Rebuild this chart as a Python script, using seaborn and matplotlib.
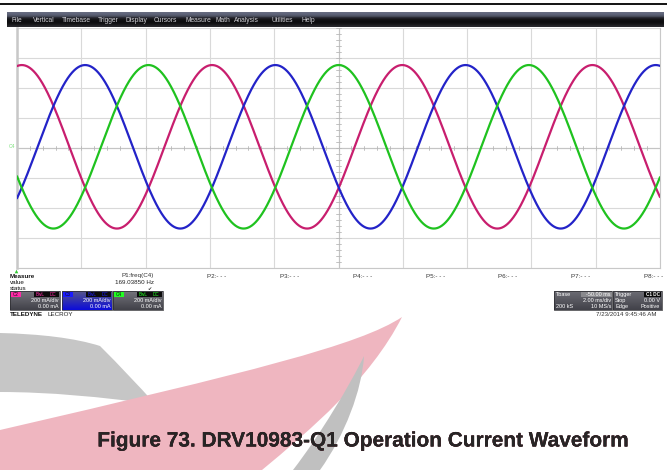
import numpy as np
import pandas as pd
import matplotlib
matplotlib.use("Agg")
import matplotlib.pyplot as plt
import matplotlib.patheffects as pe
from matplotlib.patches import Rectangle, PathPatch
from matplotlib.path import Path
import seaborn as sns

# ---- acquisition data -------------------------------------------------------
channels = ["C2", "C3", "C4"]
channel_colors = ["#c81e6e", "#2323c8", "#1fc21f"]
tag_colors = ["#ff2aa8", "#1a1aff", "#22ff22"]
amplitude_mA = [545.0, 545.0, 545.0]
peak_time_ms = [0.15, 2.12, 4.09]
offset_mA = [8.0, 8.0, 8.0]
frequency_hz = 169.03850
time_per_div_ms = 2.0
current_per_div_mA = 200.0
n_hdiv = 10
n_vdiv = 8
record_points = 4001

menu_items = ["File", "Vertical", "Timebase", "Trigger", "Display", "Cursors",
              "Measure", "Math", "Analysis", "Utilities", "Help"]
menu_x = [12, 33, 62, 98, 125, 154, 186, 216, 234, 272, 301]
param_labels = ["P1:freq(C4)", "P2:- - -", "P3:- - -", "P4:- - -",
                "P5:- - -", "P6:- - -", "P7:- - -", "P8:- - -"]
param_value = "169.03850 Hz"
channel_scale = ["200 mA/div", "200 mA/div", "200 mA/div"]
channel_offset = ["0.00 mA", "0.00 mA", "0.00 mA"]
caption = "Figure 73. DRV10983-Q1 Operation Current Waveform"

# ---- build the traces -------------------------------------------------------
t_ms = np.linspace(0, n_hdiv * time_per_div_ms, record_points)
frames = []
for ch, amp, tp, off in zip(channels, amplitude_mA, peak_time_ms, offset_mA):
    i_mA = off + amp * np.cos(2 * np.pi * frequency_hz * (t_ms - tp) / 1000.0)
    frames.append(pd.DataFrame({"t_ms": t_ms, "i_mA": i_mA, "channel": ch}))
traces = pd.concat(frames, ignore_index=True)

sns.set_theme(style="white")
plt.rcParams["font.family"] = ["Liberation Sans", "DejaVu Sans"]

W, H = 671, 470
fig = plt.figure(figsize=(W / 100, H / 100), dpi=100)
fig.patch.set_facecolor("white")

# page-level canvas in pixel units
pg = fig.add_axes([0, 0, 1, 1])
pg.set_xlim(0, W)
pg.set_ylim(H, 0)
pg.axis("off")

# rule at top of the page
pg.plot([0, 667], [4, 4], color="black", lw=1.3, solid_capstyle="butt")

# menu bar with vertical gradient
grad = np.array([[0.40, 0.42, 0.50], [0.36, 0.38, 0.46], [0.30, 0.32, 0.38],
                 [0.14, 0.14, 0.17], [0.08, 0.08, 0.09], [0.05, 0.05, 0.06],
                 [0.06, 0.06, 0.07], [0.10, 0.10, 0.11], [0.16, 0.16, 0.18]])
pg.imshow(grad[:, None, :], extent=(7, 664, 27.5, 13), aspect="auto",
          interpolation="bilinear", zorder=2)
for lab, x in zip(menu_items, menu_x):
    pg.text(x, 20, lab, fontsize=4.8, color="#d0d0d6", va="center", ha="left", zorder=3)

# left margin label of the grid
pg.text(12, 147, "C4", fontsize=3.6, color="#7ee07e", va="center", ha="center")
pg.plot([15.5], [270.5], marker="^", ms=2.6, color="#33cc33", mec="none")

# ---- oscilloscope grid ------------------------------------------------------
x0, x1, y0, y1 = 17, 660, 28, 268
ax = fig.add_axes([x0 / W, 1 - y1 / H, (x1 - x0) / W, (y1 - y0) / H])
ax.set_facecolor("white")
tmax = n_hdiv * time_per_div_ms
imax = n_vdiv / 2 * current_per_div_mA
ax.set_xlim(0, tmax)
ax.set_ylim(-imax, imax)
ax.set_xticks(np.arange(0, tmax + 0.01, time_per_div_ms))
ax.set_yticks(np.arange(-imax, imax + 0.01, current_per_div_mA))
ax.grid(True, color="#d9d9d9", lw=0.8)
ax.tick_params(length=0, labelbottom=False, labelleft=False)
ax.axvline(tmax / 2, color="#c4c4c4", lw=0.8)
ax.axhline(0, color="#c4c4c4", lw=0.8)
for t in np.arange(0, tmax + 0.01, time_per_div_ms / 5):
    ax.plot([t, t], [-12, 12], color="#b8b8b8", lw=0.6)
for c in np.arange(-imax, imax + 0.01, current_per_div_mA / 5):
    ax.plot([tmax / 2 - 0.09, tmax / 2 + 0.09], [c, c], color="#b8b8b8", lw=0.6)
for side, sp in ax.spines.items():
    sp.set_visible(True)
    sp.set_color("#c8c8c8")
    sp.set_linewidth(0.8)
ax.spines["left"].set_linewidth(1.8)
ax.spines["top"].set_visible(False)

sns.lineplot(data=traces, x="t_ms", y="i_mA", hue="channel",
             palette=dict(zip(channels, channel_colors)), linewidth=1.6,
             estimator=None, sort=False, legend=False, ax=ax, zorder=5)
ax.set_xlabel("")
ax.set_ylabel("")

# trigger position marker at top of center line
pg.plot([339, 339], [29, 34], color="#9a9a9a", lw=0.7)
pg.plot([337.5, 340.5], [29, 29], color="#9a9a9a", lw=0.6)
pg.plot([337.5, 340.5], [34, 34], color="#9a9a9a", lw=0.6)

# ---- measurement table ------------------------------------------------------
fs = 4.5
pg.text(10, 276, "Measure", fontsize=fs, fontweight="bold", color="#111", va="center")
pg.text(10, 282.2, "value", fontsize=fs, color="#111", va="center")
pg.text(10, 288.4, "status", fontsize=fs, color="#111", va="center")
for k, lab in enumerate(param_labels):
    pg.text(154 + 72.7 * k, 276, lab, fontsize=fs, color="#333", va="center", ha="right")
pg.text(154, 282.2, param_value, fontsize=fs, color="#222", va="center", ha="right")
pg.text(152, 288.4, "\u2714", fontsize=3.6, color="#333", va="center", ha="right",
        family=["DejaVu Sans"])

bfs = 4.0  # status box text size


def gradient_box(x, y, w, h, top, bottom):
    g = np.linspace(0, 1, 16)[:, None, None]
    arr = np.array(top)[None, None, :] * (1 - g) + np.array(bottom)[None, None, :] * g
    pg.imshow(arr, extent=(x, x + w, y + h, y), aspect="auto",
              interpolation="bilinear", zorder=2)
    pg.add_patch(Rectangle((x, y), w, h, fill=False, ec="#2a2a2e", lw=0.5, zorder=3))


box_x = [10, 62, 113]
for k, (bx, ch) in enumerate(zip(box_x, channels)):
    if k == 1:
        gradient_box(bx, 291, 49.5, 19, (0.33, 0.33, 0.55), (0.05, 0.05, 0.85))
    else:
        gradient_box(bx, 291, 49.5, 19, (0.45, 0.45, 0.48), (0.26, 0.26, 0.29))
    pg.add_patch(Rectangle((bx + 1.2, 291.8), 10, 5, color=tag_colors[k], zorder=4, lw=0))
    pg.text(bx + 6.2, 294.3, ch, fontsize=3.3, color="#101010", ha="center",
            va="center", zorder=5)
    pg.add_patch(Rectangle((bx + 24, 291.8), 12.5, 5, color="#0c0c0c", zorder=4, lw=0))
    pg.add_patch(Rectangle((bx + 37, 291.8), 11.5, 5, color="#0c0c0c", zorder=4, lw=0))
    pg.text(bx + 30.2, 294.3, "BwL", fontsize=3.3, color=tag_colors[k], ha="center",
            va="center", zorder=5)
    pg.text(bx + 42.7, 294.3, "DC", fontsize=3.3, color=tag_colors[k], ha="center",
            va="center", zorder=5)
    pg.text(bx + 48.5, 300.4, channel_scale[k], fontsize=bfs, color="white",
            ha="right", va="center", zorder=5)
    pg.text(bx + 48.5, 306.8, channel_offset[k], fontsize=bfs, color="white",
            ha="right", va="center", zorder=5)

pg.text(10, 314, "TELEDYNE", fontsize=4.5, fontweight="bold", color="#111", va="center")
pg.text(48, 314, "LECROY", fontsize=4.5, color="#222", va="center")

# timebase / trigger boxes
gradient_box(554, 291, 58, 19, (0.42, 0.42, 0.45), (0.26, 0.26, 0.29))
gradient_box(613, 291, 49, 19, (0.42, 0.42, 0.45), (0.26, 0.26, 0.29))
pg.add_patch(Rectangle((581, 292), 30.5, 4.8, color="#8a8a8e", zorder=4, lw=0))
pg.text(556, 294.3, "Tbase", fontsize=bfs, color="white", va="center", zorder=5)
pg.text(611, 294.3, "-50.00 ms", fontsize=bfs, color="white", va="center", ha="right", zorder=5)
pg.text(611, 300.4, "2.00 ms/div", fontsize=bfs, color="white", va="center", ha="right", zorder=5)
pg.text(556, 306.8, "200 kS", fontsize=bfs, color="white", va="center", zorder=5)
pg.text(611, 306.8, "10 MS/s", fontsize=bfs, color="white", va="center", ha="right", zorder=5)
pg.add_patch(Rectangle((644, 292), 17, 4.8, color="#0a0a0a", zorder=4, lw=0))
pg.text(615, 294.3, "Trigger", fontsize=bfs, color="white", va="center", zorder=5)
pg.text(652.5, 294.3, "C1 DC", fontsize=3.3, color="white", va="center", ha="center",
        fontweight="bold", zorder=5)
pg.text(615, 300.4, "Stop", fontsize=bfs, color="white", va="center", zorder=5)
pg.text(660, 300.4, "0.00 V", fontsize=bfs, color="white", va="center", ha="right", zorder=5)
pg.text(615, 306.8, "Edge", fontsize=bfs, color="white", va="center", zorder=5)
pg.text(660, 306.8, "Positive", fontsize=bfs, color="white", va="center", ha="right", zorder=5)
pg.text(657, 314.5, "7/23/2014 9:45:46 AM", fontsize=4.4, color="#333", va="center", ha="right")


# ---- page watermark swooshes ------------------------------------------------
def curve_path(pts):
    codes = [Path.MOVETO] + [Path.CURVE4] * (len(pts) - 1)
    return Path(pts, codes)


def add_shape(path, color):
    patch = PathPatch(path, fc=color, ec="none", zorder=1)
    pg.add_patch(patch)
    return patch


def signed_area(poly):
    x, y = poly[:, 0], poly[:, 1]
    return 0.5 * np.sum(x * np.roll(y, -1) - np.roll(x, -1) * y)


crescent_path = curve_path([(0, 333), (40, 334), (75, 338), (100, 346),
                            (120, 366), (138, 385), (155, 404),
                            (100, 397), (50, 392), (0, 392),
                            (0, 372), (0, 352), (0, 333)])
pink_path = curve_path([(402, 317), (360, 345), (250, 372), (0, 430),
                        (0, 443), (0, 457), (0, 470),
                        (90, 470), (180, 470), (262, 470),
                        (310, 430), (370, 380), (402, 317)])
grey_path = curve_path([(364, 356), (350, 385), (320, 435), (293, 470),
                        (302, 470), (311, 470), (320, 470),
                        (345, 435), (362, 390), (364, 356)])

add_shape(crescent_path, "#c6c6c6")
pink = add_shape(pink_path, "#efb6c0")
grey = add_shape(grey_path, "#c0c0c0")

# region of the caption outside both sweeps (rectangle with two holes)
pink_poly = pink_path.to_polygons(closed_only=False)[0]
grey_poly = grey_path.to_polygons(closed_only=False)[0]
rect = np.array([(0, 420), (W, 420), (W, 462), (0, 462)], dtype=float)
holes = []
for poly in (pink_poly, grey_poly):
    if np.sign(signed_area(poly)) == np.sign(signed_area(rect)):
        poly = poly[::-1]
    holes.append(poly)
clear_path = Path.make_compound_path(Path(rect, closed=True),
                                     *[Path(h, closed=True) for h in holes])

# ---- caption (drawn as outlines so each part can be clipped) -----------------
cap_kw = dict(fontsize=15.0, fontweight="bold", ha="center", va="center", zorder=6,
              path_effects=[pe.Normal()])
base = pg.text(364, 441, caption, color="#1c1c1c", **cap_kw)
base.set_clip_path(clear_path, transform=pg.transData)
tint = pg.text(364, 441, caption, color="#5c0f20", **cap_kw)
tint.set_clip_path(pink)
shade = pg.text(364, 441, caption, color="#262626", **cap_kw)
shade.set_clip_path(grey)

fig.savefig("out.png", dpi=100, facecolor="white")
